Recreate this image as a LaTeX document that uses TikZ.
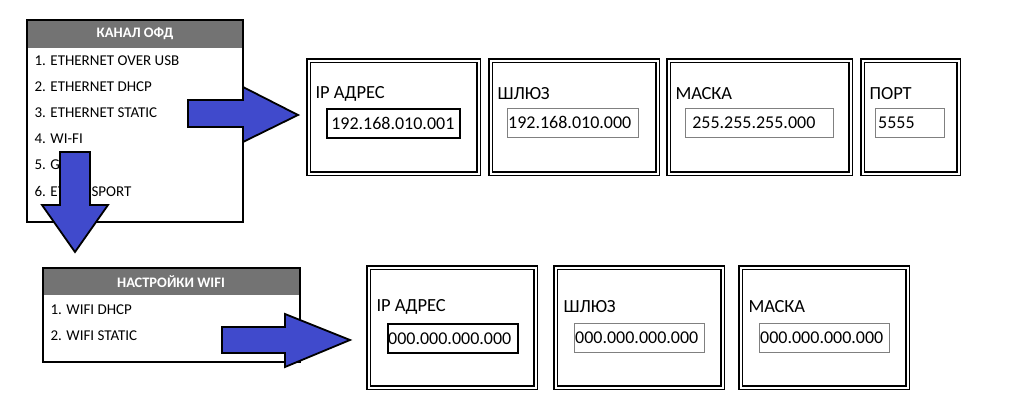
\documentclass[tikz,border=0pt]{standalone}
\usepackage{fontspec}
\setmainfont{Carlito}
\definecolor{hdrgray}{rgb}{0.45,0.45,0.45}
\definecolor{arrblue}{rgb}{0.25,0.29,0.80}
\tikzset{
  menu/.style={draw=black, line width=1.2pt, anchor=north west, inner sep=0pt},
  hdr/.style={text=white, font=\fontsize{14.5}{16}\selectfont\bfseries},
  item/.style={anchor=west, font=\fontsize{15}{17}\selectfont},
  cell/.style={draw=black, double, double distance=2pt, line width=1.2pt, anchor=north west, inner sep=0pt},
  lbl/.style={anchor=west, font=\fontsize{18.5}{20}\selectfont},
  val/.style={anchor=west, font=\fontsize{18}{20}\selectfont, inner sep=1pt},
  fld/.style={draw=gray, line width=0.8pt, anchor=north west, inner sep=0pt},
  fldb/.style={fld, draw=black, line width=1.8pt},
  bigarrow/.style={fill=arrblue, draw=black, line width=1.8pt, line join=miter}
}
\begin{document}
\begin{tikzpicture}[x=1pt,y=-1pt]
\useasboundingbox (0,0) rectangle (1023,411);
% menu OFD
\fill[hdrgray] (27,20) rectangle (243,48);
\node[hdr] (ofdh) at (135,34) {КАНАЛ ОФД};
\draw[line width=1.2pt] (27,20) rectangle (243,222);
\foreach \t [count=\i] in {1. ETHERNET OVER USB,2. ETHERNET DHCP,3. ETHERNET STATIC,4. WI-FI,5. GSM,6. ETRANSPORT}
  \node[item] (ofd\i) at (31,35+26*\i) {\t};
% menu wifi
\fill[hdrgray] (43,268) rectangle (300,295);
\node[hdr] (wfh) at (171,282) {НАСТРОЙКИ WIFI};
\draw[line width=1.2pt] (43,268) rectangle (300,362);
\node[item] (wf1) at (47,310) {1. WIFI DHCP};
\node[item] (wf2) at (47,336) {2. WIFI STATIC};
% arrows
\draw[bigarrow] (188,100) -- (243,100) -- (243,87) -- (298,115) -- (243,142) -- (243,127) -- (188,127) -- cycle;
\draw[bigarrow] (60,152) -- (90,152) -- (90,205) -- (108,205) -- (75,252) -- (42,205) -- (60,205) -- cycle;
\draw[bigarrow] (222,327) -- (285,327) -- (285,314) -- (350,340) -- (285,367) -- (285,353) -- (222,353) -- cycle;
% top cells
\foreach \x/\w/\name/\t/\fx/\fw/\s in {
  308/170/ip/IP АДРЕС/326/133/fldb,
  490/167/gw/ШЛЮЗ/507/131/fld,
  668/182/mask/МАСКА/685/148/fld,
  862/96/port/ПОРТ/875/69/fld}
{
  \node[cell, minimum width=\w pt, minimum height=113pt] (\name) at (\x,60) {};
  \node[lbl] (\name l) at (\x+4,94) {\t};
  \node[\s, minimum width=\fw pt, minimum height=29pt] (\name f) at (\fx,108) {};
}
\node[val] at (ipf.west) {~192.168.010.001};
\node[val] at (gwf.west) {192.168.010.000};
\node[val] at ([xshift=2pt]maskf.west) {~255.255.255.000};
\node[val] at ([xshift=2pt]portf.west) {5555};
% bottom cells
\foreach \x/\name/\t/\fx/\s in {
  368/wip/IP АДРЕС/387/fldb,
  555/wgw/ШЛЮЗ/574/fld,
  740/wmask/МАСКА/759/fld}
{
  \node[cell, minimum width=167pt, minimum height=120pt] (\name) at (\x,267) {};
  \node[lbl] (\name l) at (\x+5,307) {\t};
  \node[\s, minimum width=130pt, minimum height=29pt] (\name f) at (\fx,323) {};
  \node[val] at (\name f.west) {000.000.000.000};
}
\end{tikzpicture}
\end{document}
